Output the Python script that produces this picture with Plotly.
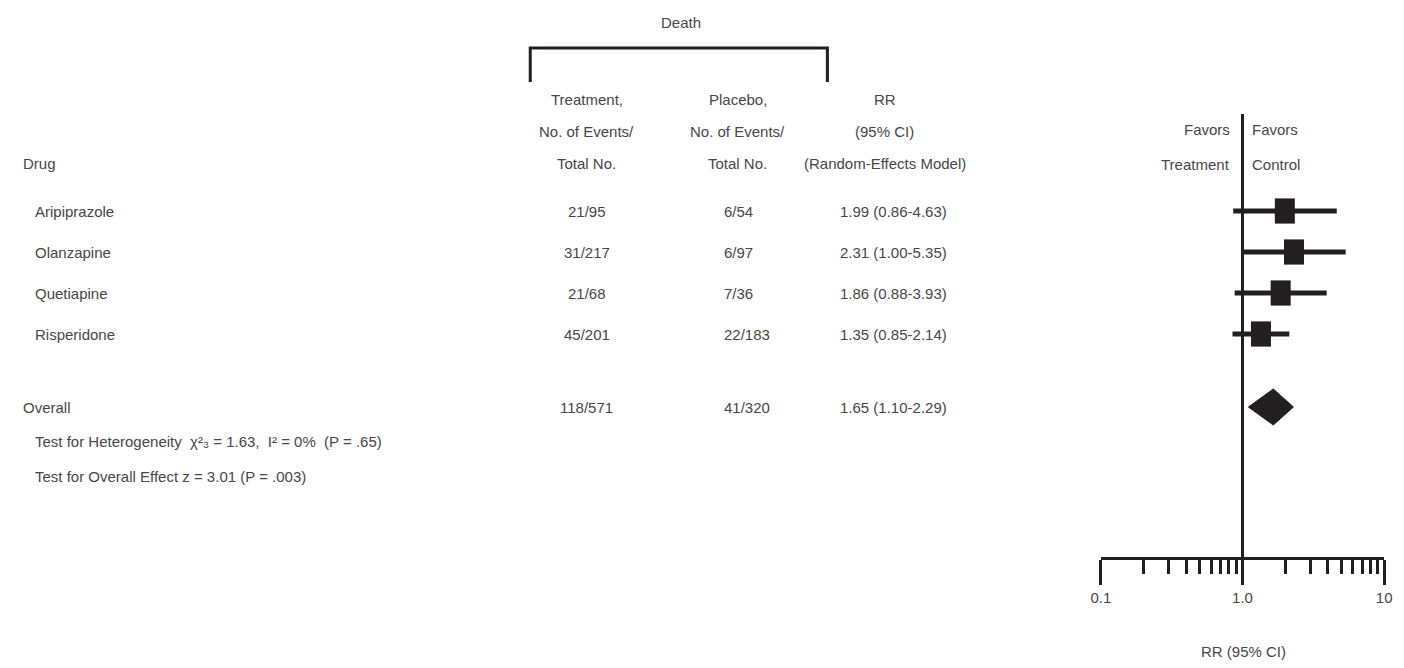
import plotly.graph_objects as go

# ---------------- data ----------------
drugs = ["Aripiprazole", "Olanzapine", "Quetiapine", "Risperidone"]
treat_events = ["21/95", "31/217", "21/68", "45/201"]
placebo_events = ["6/54", "6/97", "7/36", "22/183"]
rr = [1.99, 2.31, 1.86, 1.35]
rr_lo = [0.86, 1.00, 0.88, 0.85]
rr_hi = [4.63, 5.35, 3.93, 2.14]

overall_label = "Overall"
overall_treat = "118/571"
overall_placebo = "41/320"
overall_rr = 1.65
overall_lo = 1.10
overall_hi = 2.29

tick_values = [0.1, 1, 10]
tick_labels = ["0.1", "1.0", "10"]
minor_tick_values = [0.2, 0.3, 0.4, 0.5, 0.6, 0.7, 0.8, 0.9,
                     2, 3, 4, 5, 6, 7, 8, 9]

het_text = "Test for Heterogeneity \u00a0χ²₃ = 1.63, \u00a0I² = 0% \u00a0(P = .65)"
effect_text = "Test for Overall Effect z = 3.01 (P = .003)"

# ---------------- layout helpers ----------------
W, H = 1404, 668
FONT = "Liberation Sans, Arial, sans-serif"
TXT = "#474747"
INK = "#231f20"
FS = 15

row_y = [211 + 41 * i for i in range(len(drugs))]
overall_y = 407
het_y, eff_y = 441, 476
hdr_y = [99, 131, 163]

ax_left, ax_right = 1105, 1392
axis_y = 558


def px(x):
    return x / W


fig = go.Figure()

# CI whiskers
cx, cy = [], []
for lo, hi, y in zip(rr_lo, rr_hi, row_y):
    cx += [lo, hi, None]
    cy += [y, y, None]
fig.add_trace(go.Scatter(x=cx, y=cy, mode="lines",
                         line=dict(color=INK, width=5),
                         hoverinfo="skip", cliponaxis=False, showlegend=False))

# point estimates (boxes)
fig.add_trace(go.Scatter(x=rr, y=row_y, mode="markers",
                         marker=dict(symbol="line-ns", size=18,
                                     line=dict(color=INK, width=20)),
                         cliponaxis=False, showlegend=False,
                         text=drugs, hovertemplate="%{text}: %{x}<extra></extra>"))

# overall diamond
dh = 18
fig.add_trace(go.Scatter(
    x=[overall_lo, overall_rr, overall_hi, overall_rr, overall_lo],
    y=[overall_y, overall_y - dh, overall_y, overall_y + dh, overall_y],
    mode="lines", fill="toself", fillcolor=INK,
    line=dict(color=INK, width=1), cliponaxis=False, showlegend=False,
    hoverinfo="skip"))

# line of no effect
fig.add_trace(go.Scatter(x=[1, 1], y=[114, 572], mode="lines",
                         line=dict(color=INK, width=3), cliponaxis=False,
                         showlegend=False, hoverinfo="skip"))

ann = []


def add_text(x, y, text, xanchor="left", size=FS):
    ann.append(dict(x=px(x), y=y, xref="paper", yref="y", text=text,
                    showarrow=False, xanchor=xanchor, yanchor="middle",
                    borderpad=0,
                    font=dict(family=FONT, size=size, color=TXT)))


# header
add_text(680, 22, "Death", "center")
add_text(584, hdr_y[0], "Treatment,", "center")
add_text(584, hdr_y[1], "No. of Events/", "center")
add_text(584, hdr_y[2], "Total No.", "center")
add_text(737, hdr_y[0], "Placebo,", "center")
add_text(737, hdr_y[1], "No. of Events/", "center")
add_text(737, hdr_y[2], "Total No.", "center")
add_text(886, hdr_y[0], "RR", "center")
add_text(886, hdr_y[1], "(95% CI)", "center")
add_text(886, hdr_y[2], "(Random-Effects Model)", "center")
add_text(12, hdr_y[2], "Drug")
add_text(1237, 129, "Favors", "right")
add_text(1237, 164, "Treatment", "right")
add_text(1257, 129, "Favors")
add_text(1257, 164, "Control")

# rows
for d, t, p, r, lo, hi, y in zip(drugs, treat_events, placebo_events,
                                  rr, rr_lo, rr_hi, row_y):
    add_text(24, y, d)
    add_text(584, y, t, "center")
    add_text(722, y, p)
    add_text(840, y, f"{r:.2f} ({lo:.2f}-{hi:.2f})")

add_text(12, overall_y, overall_label)
add_text(584, overall_y, overall_treat, "center")
add_text(722, overall_y, overall_placebo)
add_text(840, overall_y, f"{overall_rr:.2f} ({overall_lo:.2f}-{overall_hi:.2f})")
add_text(24, het_y, het_text)
add_text(24, eff_y, effect_text)

# axis title
add_text(1250, 651, "RR (95% CI)", "center")

# bracket over Death columns
shapes = [dict(type="path", xref="paper", yref="y",
               path=f"M {px(527)},82 L {px(527)},48 L {px(828)},48 L {px(828)},82",
               line=dict(color=INK, width=3))]

fig.update_layout(
    width=W, height=H,
    margin=dict(l=0, r=0, t=0, b=0),
    paper_bgcolor="white", plot_bgcolor="white",
    showlegend=False,
    annotations=ann, shapes=shapes,
    xaxis=dict(type="log", range=[-1, 1],
               domain=[px(ax_left), px(ax_right)],
               anchor="free", position=1 - axis_y / H,
               showline=True, linecolor=INK, linewidth=3,
               showgrid=False, zeroline=False,
               tickmode="array", tickvals=tick_values, ticktext=tick_labels,
               ticks="outside", ticklen=25, tickwidth=3, tickcolor=INK,
               tickfont=dict(family=FONT, size=FS, color=TXT),
               minor=dict(tickvals=minor_tick_values, ticks="outside",
                          ticklen=14, tickwidth=3, tickcolor=INK,
                          showgrid=False)),
    yaxis=dict(range=[H, 0], domain=[0, 1], visible=False,
               showgrid=False, zeroline=False),
)

fig.write_html(
    "out.html",
    config={"displayModeBar": False},
    post_script="document.body.style.margin='0';"
                "document.body.style.overflow='hidden';",
)
